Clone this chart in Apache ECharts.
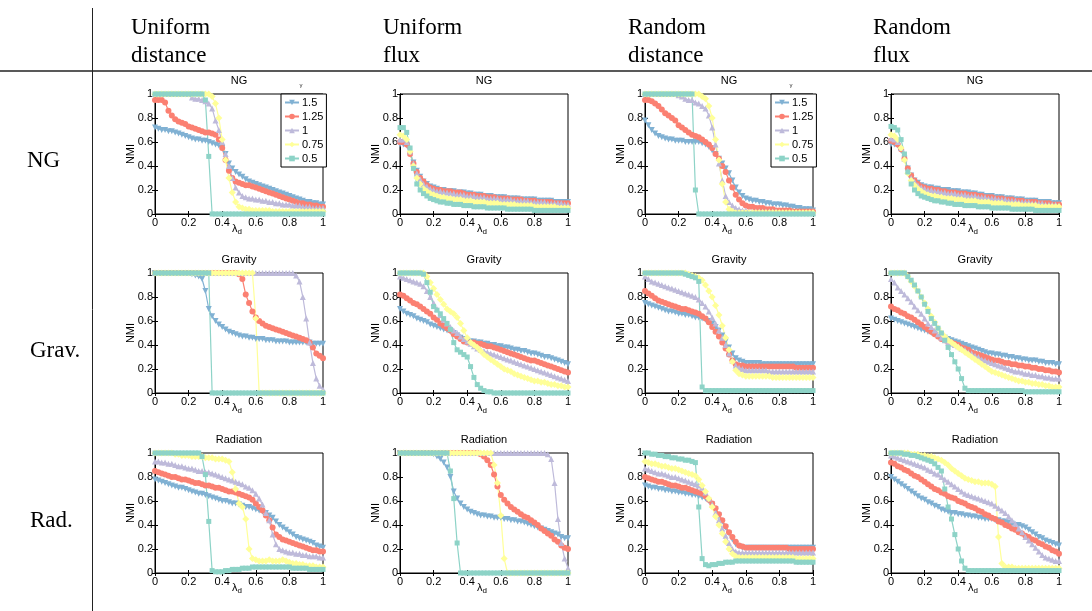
<!DOCTYPE html>
<html lang="en">
<head>
<meta charset="UTF-8" />
<title>NMI vs lambda_d</title>
<script src="https://cdn.jsdelivr.net/npm/echarts@6/dist/echarts.min.js"></script>
<style>
  html, body { margin: 0; padding: 0; background: #fff; }
  #chart { width: 1092px; height: 611px; }
</style>
</head>
<body>
<div id="chart"></div>
<script>
// x grid (lambda_d) shared by every panel
var lambdaD = [0, 0.02, 0.04, 0.06, 0.08, 0.1, 0.12, 0.14, 0.16, 0.18,
  0.2, 0.22, 0.24, 0.26, 0.28, 0.3, 0.32, 0.34, 0.36, 0.38,
  0.4, 0.42, 0.44, 0.46, 0.48, 0.5, 0.52, 0.54, 0.56, 0.58,
  0.6, 0.62, 0.64, 0.66, 0.68, 0.7, 0.72, 0.74, 0.76, 0.78,
  0.8, 0.82, 0.84, 0.86, 0.88, 0.9, 0.92, 0.94, 0.96, 0.98, 1];
var gammaNames = ['1.5', '1.25', '1', '0.75', '0.5'];
var colTitles = ['Uniform\ndistance', 'Uniform\nflux', 'Random\ndistance', 'Random\nflux'];
var rowTitles = ['NG', 'Grav.', 'Rad.'];
var panelTitles = ['NG', 'Gravity', 'Radiation'];
var xTicks = [0, 0.2, 0.4, 0.6, 0.8, 1];
var yTicks = [0, 0.2, 0.4, 0.6, 0.8, 1];

// each panel: [gamma 1.5, 1.25, 1, 0.75, 0.5]
var udNG = [
  [.72,.71,.70,.70,.69,.69,.68,.67,.66,.65, .64,.63,.62,.62,.61,.61,.60,.59,.58,.57, .55,.50,.42,.38,.35,.33,.31,.29,.27,.26, .25,.24,.23,.22,.21,.20,.19,.18,.17,.16, .15,.14,.13,.12,.11,.10,.10,.09,.09,.08, .08],
  [.95,.95,.95,.93,.86,.82,.79,.77,.76,.75, .73,.72,.71,.70,.69,.68,.68,.67,.66,.62, .55,.45,.36,.30,.27,.26,.25,.24,.24,.23, .22,.21,.20,.19,.18,.17,.16,.15,.14,.13, .12,.11,.10,.09,.09,.08,.08,.07,.07,.06, .06],
  [1,1,1,1,1,1,1,1,1,1, 1,.97,.96,.96,.95,.94,.92,.88,.78,.70, .60,.50,.40,.30,.22,.18,.15,.14,.13,.13, .12,.12,.11,.11,.10,.10,.09,.09,.08,.08, .08,.07,.07,.07,.06,.06,.06,.05,.05,.05, .05],
  [1,1,1,1,1,1,1,1,1,1, 1,1,1,1,1,1,1,.98,.92,.80, .62,.45,.30,.18,.10,.06,.05,.04,.04,.03, .03,.03,.03,.03,.03,.02,.02,.02,.02,.02, .02,.02,.02,.02,.02,.02,.02,.02,.02,.02, .02],
  [1,1,1,1,1,1,1,1,1,1, 1,1,1,1,1,.95,.48,0,0,0, 0,0,0,0,0,0,0,0,0,0, 0,0,0,0,0,0,0,0,0,0, 0,0,0,0,0,0,0,0,0,0, 0]
];
var ufNG = [
  [.58,.58,.57,.50,.43,.36,.31,.27,.25,.23, .22,.21,.20,.20,.19,.19,.19,.18,.18,.18, .17,.17,.16,.16,.16,.15,.15,.15,.14,.14, .14,.14,.13,.13,.13,.13,.12,.12,.12,.12, .12,.11,.11,.11,.11,.11,.10,.10,.10,.10, .10],
  [.60,.60,.58,.50,.42,.35,.30,.27,.24,.22, .21,.20,.20,.19,.19,.19,.18,.18,.18,.17, .16,.16,.16,.15,.15,.15,.14,.14,.14,.13, .13,.13,.13,.12,.12,.12,.12,.11,.11,.11, .11,.10,.10,.10,.10,.10,.09,.09,.09,.09, .09],
  [.62,.62,.60,.52,.42,.34,.29,.25,.23,.21, .20,.19,.19,.18,.18,.17,.17,.16,.16,.16, .15,.15,.15,.14,.14,.14,.13,.13,.13,.13, .12,.12,.12,.12,.11,.11,.11,.11,.11,.10, .10,.10,.10,.10,.09,.09,.09,.09,.09,.08, .08],
  [.66,.65,.62,.52,.40,.30,.25,.21,.19,.17, .16,.15,.14,.14,.13,.13,.12,.12,.12,.11, .11,.11,.10,.10,.10,.10,.09,.09,.09,.09, .08,.08,.08,.08,.08,.07,.07,.07,.07,.07, .06,.06,.06,.06,.06,.06,.06,.05,.05,.05, .05],
  [.72,.72,.68,.55,.38,.25,.20,.17,.15,.13, .12,.11,.10,.10,.09,.09,.08,.08,.08,.07, .07,.07,.06,.06,.06,.06,.05,.05,.05,.05, .05,.05,.04,.04,.04,.04,.04,.04,.04,.04, .03,.03,.03,.03,.03,.03,.03,.03,.03,.03, .03]
];
var rdNG = [
  [.78,.74,.70,.67,.65,.64,.63,.62,.62,.61, .61,.61,.60,.60,.60,.60,.60,.59,.58,.56, .53,.50,.46,.42,.38,.34,.28,.22,.18,.15, .13,.12,.11,.11,.10,.10,.09,.09,.08,.08, .08,.07,.07,.06,.06,.05,.05,.04,.04,.04, .03],
  [.95,.95,.94,.92,.90,.87,.84,.82,.80,.78, .74,.72,.70,.68,.66,.65,.64,.62,.60,.58, .55,.50,.46,.40,.35,.28,.22,.16,.12,.09, .07,.06,.06,.05,.05,.05,.04,.04,.04,.03, .03,.03,.03,.03,.02,.02,.02,.02,.02,.02, .02],
  [1,1,1,1,1,1,1,1,1,1, .99,.98,.96,.95,.95,.93,.92,.90,.88,.82, .72,.58,.42,.28,.15,.10,.07,.05,.04,.03, .03,.02,.02,.02,.02,.02,.02,.02,.02,.02, .01,.01,.01,.01,.01,.01,.01,.01,.01,.01, .01],
  [1,1,1,1,1,1,1,1,1,1, 1,1,1,1,1,1,1,.98,.96,.90, .80,.62,.45,.25,.10,.04,.02,.01,.01,.01, .01,.01,.01,.01,.01,.01,.01,.01,.01,.01, .01,.01,.01,.01,.01,.01,.01,.01,.01,.01, .01],
  [1,1,1,1,1,1,1,1,1,1, 1,1,1,1,1,.2,0,0,0,0, 0,0,0,0,0,0,0,0,0,0, 0,0,0,0,0,0,0,0,0,0, 0,0,0,0,0,0,0,0,0,0, 0]
];
var rfNG = [
  [.58,.58,.57,.53,.46,.38,.32,.28,.26,.24, .23,.22,.22,.21,.21,.20,.20,.20,.19,.19, .19,.18,.18,.18,.17,.17,.16,.16,.15,.15, .15,.14,.14,.14,.13,.13,.13,.12,.12,.12, .11,.11,.11,.11,.10,.10,.10,.10,.09,.09, .09],
  [.61,.60,.58,.54,.46,.38,.32,.28,.25,.23, .22,.21,.21,.20,.20,.19,.19,.18,.18,.18, .17,.17,.17,.16,.16,.16,.15,.15,.14,.14, .14,.13,.13,.13,.12,.12,.12,.11,.11,.11, .10,.10,.10,.10,.09,.09,.09,.09,.08,.08, .08],
  [.63,.62,.60,.55,.46,.36,.30,.27,.24,.22, .21,.20,.20,.19,.19,.18,.18,.17,.17,.17, .16,.16,.16,.15,.15,.15,.14,.14,.14,.13, .13,.13,.12,.12,.12,.11,.11,.11,.10,.10, .10,.10,.09,.09,.09,.09,.08,.08,.08,.08, .07],
  [.66,.65,.62,.55,.45,.34,.28,.24,.21,.19, .17,.16,.15,.15,.14,.14,.13,.13,.13,.12, .12,.12,.11,.11,.11,.11,.10,.10,.10,.10, .09,.09,.09,.09,.08,.08,.08,.08,.08,.07, .07,.07,.07,.07,.06,.06,.06,.06,.06,.06, .06],
  [.73,.72,.70,.62,.50,.35,.25,.20,.17,.15, .14,.13,.12,.11,.11,.10,.10,.09,.09,.08, .08,.08,.07,.07,.07,.07,.06,.06,.06,.06, .05,.05,.05,.05,.05,.05,.04,.04,.04,.04, .04,.04,.04,.03,.03,.03,.03,.03,.03,.03, .03]
];
var udGrav = [
  [1,1,1,1,1,1,1,1,1,1, 1,.99,.98,.97,.95,.85,.70,.64,.60,.57, .55,.53,.51,.50,.49,.48,.47,.47,.46,.46, .45,.45,.45,.44,.44,.44,.43,.43,.43,.43, .42,.42,.42,.42,.42,.42,.42,.41,.41,.41, .41],
  [1,1,1,1,1,1,1,1,1,1, 1,1,1,1,1,1,1,1,1,1, 1,1,1,1,1,.99,.95,.82,.75,.68, .63,.60,.58,.56,.55,.54,.53,.52,.51,.50, .49,.48,.47,.46,.45,.44,.42,.38,.33,.31, .29],
  [1,1,1,1,1,1,1,1,1,1, 1,1,1,1,1,1,1,1,1,1, 1,1,1,1,1,1,1,1,1,1, 1,1,1,1,1,1,1,1,1,1, 1,1,.98,.93,.80,.62,.42,.25,.12,.06, .03],
  [1,1,1,1,1,1,1,1,1,1, 1,1,1,1,1,1,1,1,1,1, 1,1,1,1,1,1,1,1,1,1, .62,0,0,0,0,0,0,0,0,0, 0,0,0,0,0,0,0,0,0,0, 0],
  [1,1,1,1,1,1,1,1,1,1, 1,1,1,1,1,1,1,0,0,0, 0,0,0,0,0,0,0,0,0,0, 0,0,0,0,0,0,0,0,0,0, 0,0,0,0,0,0,0,0,0,0, 0]
];
var ufGrav = [
  [.70,.68,.66,.65,.64,.62,.61,.60,.59,.57, .56,.55,.54,.53,.52,.51,.50,.48,.46,.45, .44,.43,.43,.42,.42,.41,.41,.40,.40,.39, .39,.38,.38,.37,.36,.36,.35,.35,.34,.33, .33,.32,.31,.30,.30,.29,.28,.27,.26,.25, .24],
  [.82,.81,.79,.77,.75,.74,.72,.70,.68,.66, .63,.61,.58,.56,.54,.52,.49,.47,.45,.43, .42,.42,.42,.41,.41,.40,.39,.39,.38,.37, .36,.35,.34,.33,.32,.31,.30,.29,.28,.27, .27,.26,.25,.24,.23,.22,.21,.20,.19,.18, .17],
  [.97,.96,.95,.94,.93,.92,.91,.89,.85,.80, .75,.70,.65,.61,.58,.55,.52,.50,.47,.45, .43,.41,.39,.37,.36,.35,.34,.33,.32,.31, .30,.29,.28,.27,.26,.25,.24,.23,.22,.21, .20,.19,.18,.17,.16,.15,.14,.13,.12,.11, .10],
  [1,1,1,1,1,1,1,1,.97,.92, .87,.82,.78,.74,.70,.68,.66,.63,.58,.52, .46,.42,.40,.38,.35,.32,.30,.28,.26,.24, .22,.20,.19,.18,.16,.15,.14,.13,.12,.11, .10,.10,.09,.09,.08,.07,.07,.06,.06,.05, .05],
  [1,1,1,1,1,1,1,.99,.92,.84, .72,.69,.66,.62,.58,.53,.42,.36,.34,.32, .30,.22,.13,.07,.04,.02,.01,.01,0,0, 0,0,0,0,0,0,0,0,0,0, 0,0,0,0,0,0,0,0,0,0, 0]
];
var rdGrav = [
  [.75,.74,.73,.72,.71,.70,.69,.68,.68,.67, .66,.66,.65,.65,.64,.63,.63,.62,.61,.60, .58,.55,.52,.48,.43,.38,.33,.29,.27,.26, .25,.25,.25,.25,.25,.24,.24,.24,.24,.24, .24,.24,.24,.24,.24,.24,.24,.24,.24,.24, .24],
  [.85,.83,.81,.79,.77,.76,.75,.74,.73,.72, .71,.70,.70,.69,.68,.67,.66,.64,.62,.59, .55,.51,.47,.42,.37,.32,.27,.24,.23,.23, .22,.22,.22,.22,.22,.22,.22,.22,.22,.22, .22,.22,.22,.22,.22,.21,.21,.21,.21,.21, .21],
  [.97,.95,.93,.92,.91,.90,.89,.88,.87,.86, .85,.84,.83,.82,.81,.80,.78,.75,.72,.68, .63,.58,.52,.46,.40,.33,.27,.23,.21,.20, .19,.19,.19,.19,.19,.19,.19,.18,.18,.18, .18,.18,.18,.18,.18,.18,.18,.18,.18,.18, .18],
  [1,1,1,1,1,1,1,1,1,1, 1,1,1,.99,.98,.97,.96,.94,.90,.85, .80,.73,.65,.56,.46,.36,.26,.19,.16,.15, .14,.14,.14,.14,.14,.14,.14,.14,.13,.13, .13,.13,.13,.13,.13,.13,.13,.13,.13,.13, .13],
  [1,1,1,1,1,1,1,1,1,1, 1,1,.99,.98,.97,.96,.93,.05,.02,.02, .02,.02,.02,.02,.02,.02,.02,.02,.02,.02, .02,.02,.02,.02,.02,.02,.02,.02,.02,.02, .02,.02,.02,.02,.02,.02,.02,.02,.02,.02, .02]
];
var rfGrav = [
  [.62,.61,.60,.59,.58,.57,.56,.55,.54,.53, .52,.51,.50,.49,.48,.47,.46,.45,.44,.43, .42,.41,.40,.39,.38,.37,.36,.35,.34,.33, .33,.32,.32,.31,.31,.30,.30,.29,.29,.28, .28,.27,.27,.27,.26,.26,.25,.25,.25,.24, .24],
  [.72,.70,.69,.67,.66,.64,.63,.61,.59,.57, .55,.53,.51,.49,.47,.45,.44,.43,.42,.41, .40,.38,.37,.36,.34,.33,.32,.31,.30,.29, .28,.27,.27,.26,.25,.25,.24,.24,.23,.23, .22,.22,.21,.21,.20,.20,.19,.19,.18,.18, .17],
  [.95,.92,.88,.85,.82,.79,.76,.72,.69,.66, .62,.58,.55,.52,.49,.46,.44,.42,.41,.40, .39,.37,.36,.34,.33,.31,.30,.28,.27,.26, .25,.24,.23,.22,.21,.20,.19,.18,.18,.17, .16,.16,.15,.15,.14,.14,.13,.13,.12,.12, .12],
  [1,1,1,1,1,.97,.93,.89,.85,.80, .75,.70,.64,.59,.54,.50,.47,.44,.42,.40, .38,.36,.34,.32,.30,.28,.26,.24,.22,.20, .18,.17,.16,.15,.14,.13,.12,.11,.10,.10, .09,.09,.08,.08,.07,.07,.06,.06,.05,.05, .05],
  [1,1,1,1,1,.97,.94,.90,.85,.80, .74,.68,.62,.58,.54,.50,.44,.38,.32,.26, .20,.12,.04,.02,.02,.02,.02,.02,.02,.02, .02,.02,.02,.02,.02,.02,.02,.02,.02,.02, .01,.01,.01,.01,.01,.01,.01,.01,.01,.01, .01]
];
var udRad = [
  [.78,.77,.76,.75,.74,.73,.72,.71,.71,.70, .69,.68,.67,.66,.66,.65,.64,.63,.62,.61, .60,.60,.59,.58,.58,.57,.56,.55,.55,.54, .53,.52,.51,.50,.48,.46,.43,.40,.38,.36, .34,.32,.30,.29,.28,.27,.26,.25,.23,.22, .21],
  [.85,.84,.83,.82,.81,.80,.80,.79,.78,.78, .77,.76,.75,.75,.74,.73,.73,.72,.71,.71, .70,.69,.68,.68,.67,.66,.65,.64,.63,.61, .58,.55,.52,.48,.44,.38,.32,.30,.28,.27, .26,.25,.24,.23,.22,.21,.20,.19,.19,.18, .18],
  [.93,.93,.92,.92,.91,.91,.90,.89,.89,.88, .87,.87,.86,.85,.85,.84,.84,.83,.82,.81, .80,.79,.78,.77,.76,.75,.74,.72,.71,.69, .66,.62,.57,.50,.44,.32,.24,.20,.19,.18, .17,.17,.16,.16,.15,.15,.14,.14,.14,.13, .13],
  [1,1,1,1,1,1,.99,.99,.98,.98, .98,.97,.97,.97,.97,.96,.96,.96,.95,.95, .95,.94,.93,.84,.70,.58,.55,.45,.20,.12, .11,.10,.10,.10,.11,.10,.10,.10,.11,.10, .09,.08,.08,.07,.07,.06,.06,.06,.05,.05, .05],
  [1,1,1,1,1,1,1,1,1,1, 1,1,1,1,.97,.82,.43,.02,.01,.01, .01,.02,.02,.03,.03,.03,.04,.04,.04,.05, .05,.05,.05,.05,.05,.05,.05,.05,.05,.05, .05,.04,.04,.04,.04,.04,.03,.03,.03,.03, .03]
];
var ufRad = [
  [1,1,1,1,1,1,1,1,1,1, .99,.97,.95,.92,.88,.80,.68,.62,.58,.55, .53,.51,.50,.49,.48,.48,.47,.47,.46,.46, .46,.45,.45,.44,.44,.43,.43,.42,.41,.40, .39,.38,.37,.36,.35,.34,.33,.32,.30,.29, .29],
  [1,1,1,1,1,1,1,1,1,1, 1,1,1,1,1,1,1,1,1,1, 1,1,1,1,.99,.97,.94,.90,.82,.72, .65,.61,.58,.55,.53,.51,.49,.47,.46,.44, .42,.40,.37,.35,.33,.31,.28,.26,.23,.21, .20],
  [1,1,1,1,1,1,1,1,1,1, 1,1,1,1,1,1,1,1,1,1, 1,1,1,1,1,1,1,1,1,1, 1,1,1,1,1,1,1,1,1,1, 1,1,1,1,.99,.95,.75,.45,.25,.12, .04],
  [1,1,1,1,1,1,1,1,1,1, 1,1,1,1,1,1,1,1,1,1, 1,1,1,1,1,1,1,1,.90,.75, .48,.12,0,0,0,0,0,0,0,0, 0,0,0,0,0,0,0,0,0,0, 0],
  [1,1,1,1,1,1,1,1,1,1, 1,1,1,1,1,.85,.62,.25,0,0, 0,0,0,0,0,0,0,0,0,0, 0,0,0,0,0,0,0,0,0,0, 0,0,0,0,0,0,0,0,0,0, 0]
];
var rdRad = [
  [.73,.72,.71,.71,.70,.70,.69,.69,.68,.68, .67,.67,.66,.66,.65,.65,.64,.63,.62,.60, .57,.53,.48,.43,.38,.33,.28,.24,.22,.21, .21,.21,.21,.21,.21,.21,.21,.21,.21,.21, .21,.21,.21,.21,.21,.21,.21,.21,.21,.21, .21],
  [.80,.79,.78,.77,.76,.76,.75,.74,.73,.73, .72,.71,.71,.70,.69,.68,.67,.66,.64,.61, .58,.54,.49,.44,.39,.34,.30,.26,.23,.22, .21,.21,.21,.21,.21,.21,.21,.21,.21,.21, .21,.21,.21,.20,.20,.20,.20,.20,.20,.20, .20],
  [.87,.86,.85,.84,.83,.83,.82,.81,.80,.80, .79,.78,.77,.76,.75,.74,.73,.71,.67,.62, .57,.50,.44,.37,.31,.25,.20,.18,.17,.17, .17,.17,.17,.17,.17,.17,.17,.17,.17,.17, .17,.17,.17,.17,.17,.17,.17,.17,.17,.17, .17],
  [.93,.92,.91,.91,.90,.89,.89,.88,.87,.87, .86,.85,.84,.83,.82,.81,.78,.73,.68,.62, .55,.47,.40,.33,.26,.20,.16,.14,.13,.13, .13,.13,.13,.13,.13,.13,.13,.13,.13,.13, .13,.13,.13,.13,.13,.12,.12,.12,.12,.12, .12],
  [1,1,.99,.99,.98,.98,.97,.97,.96,.96, .95,.95,.94,.94,.93,.92,.55,.12,.07,.06, .07,.07,.08,.08,.09,.09,.09,.10,.10,.10, .10,.10,.10,.10,.10,.10,.10,.10,.10,.10, .10,.10,.10,.10,.10,.09,.09,.09,.09,.09, .09]
];
var rfRad = [
  [.80,.78,.76,.74,.72,.70,.68,.66,.64,.62, .61,.59,.58,.56,.55,.53,.52,.51,.50,.50, .49,.49,.48,.48,.47,.47,.46,.46,.45,.45, .45,.44,.44,.43,.43,.42,.41,.40,.40,.39, .38,.36,.34,.32,.30,.29,.27,.26,.25,.24, .23],
  [.92,.91,.89,.88,.86,.85,.83,.81,.80,.78, .76,.74,.72,.70,.69,.67,.66,.64,.63,.62, .60,.59,.58,.56,.55,.54,.52,.51,.49,.48, .46,.45,.43,.42,.40,.39,.37,.36,.34,.33, .31,.30,.28,.27,.25,.24,.22,.21,.19,.18, .16],
  [.98,.97,.96,.95,.94,.93,.92,.91,.90,.89, .88,.86,.85,.83,.82,.80,.78,.76,.74,.72, .70,.68,.66,.65,.64,.63,.62,.61,.60,.59, .58,.56,.54,.52,.50,.47,.44,.41,.37,.34, .30,.27,.24,.21,.18,.15,.13,.12,.11,.10, .10],
  [1,1,1,1,1,1,.99,.99,.99,.98, .98,.97,.97,.96,.95,.94,.92,.90,.87,.85, .83,.81,.79,.78,.77,.76,.76,.75,.75,.75, .74,.72,.30,.08,.05,.05,.05,.04,.04,.04, .04,.04,.04,.04,.04,.04,.04,.04,.04,.04, .04],
  [1,1,1,1,.99,.99,.98,.98,.97,.96, .95,.94,.93,.91,.88,.85,.70,.55,.45,.32, .20,.10,.04,.02,.02,.02,.02,.02,.02,.02, .02,.02,.02,.02,.02,.02,.02,.02,.02,.02, .02,.02,.02,.02,.02,.02,.02,.02,.02,.02, .02]
];

var panelData = [
  [udNG, ufNG, rdNG, rfNG],
  [udGrav, ufGrav, rdGrav, rfGrav],
  [udRad, ufRad, rdRad, rfRad]
];

var chart = echarts.init(document.getElementById('chart'));

var colLeft = [155, 400, 645, 891];
var headLeft = [131, 383, 628, 873];
var rowTop = [94, 273, 453];
var plotW = 168;
var plotH = 120;
var lineColor = ['#80b1d3', '#fb8072', '#bebada', '#ffff99', '#8dd3c7'];
var lineSymbol = ['triangle', 'circle', 'triangle', 'diamond', 'rect'];
var symbolRot = [180, 0, 0, 0, 0];
var symbolSz = [6, 6, 6, 7, 5];
var sans = 'Liberation Sans, Arial, sans-serif';
var serif = 'Liberation Serif, Times New Roman, serif';

var grids = [];
var xAxes = [];
var yAxes = [];
var series = [];
var graphics = [];

function tickAxis(k, pos) {
  return {
    gridIndex: k, type: 'value', min: 0, max: 1, interval: 0.2, position: pos,
    axisLine: { lineStyle: { color: '#000', width: 1 } },
    axisTick: { inside: true, length: 3, lineStyle: { color: '#000' } },
    axisLabel: { show: false },
    splitLine: { show: false }
  };
}

for (var r = 0; r < 3; r++) {
  for (var c = 0; c < 4; c++) {
    var k = r * 4 + c;
    grids.push({
      left: colLeft[c], top: rowTop[r], width: plotW, height: plotH,
      show: true, borderColor: '#000', borderWidth: 1, backgroundColor: '#fff'
    });
    xAxes.push({
      gridIndex: k, type: 'value', min: 0, max: 1, interval: 0.2,
      name: '{l|λ}{d|d}', nameLocation: 'middle', nameGap: 7, nameMoveOverlap: false,
      nameTextStyle: {
        color: '#000', padding: [0, 4, 0, 0],
        rich: {
          l: { fontSize: 11, fontFamily: sans, color: '#000' },
          d: { fontSize: 8, fontFamily: sans, color: '#000', padding: [7, 0, 0, 0] }
        }
      },
      axisLine: { lineStyle: { color: '#000', width: 1 } },
      axisTick: { inside: true, length: 3, lineStyle: { color: '#000' } },
      axisLabel: {
        color: '#000', fontSize: 11, fontFamily: sans, margin: 3,
        formatter: function (v) { return xTicks.indexOf(v) >= 0 ? String(v) : ''; }
      },
      splitLine: { show: false }
    });
    yAxes.push({
      gridIndex: k, type: 'value', min: 0, max: 1, interval: 0.2,
      name: 'NMI', nameLocation: 'middle', nameGap: 19, nameMoveOverlap: false,
      nameTextStyle: { color: '#000', fontSize: 11, fontFamily: sans },
      axisLine: { lineStyle: { color: '#000', width: 1 } },
      axisTick: { inside: true, length: 3, lineStyle: { color: '#000' } },
      axisLabel: {
        color: '#000', fontSize: 11, fontFamily: sans, margin: 2,
        formatter: function (v) { return yTicks.indexOf(v) >= 0 ? String(v) : ''; }
      },
      splitLine: { show: false }
    });

    var vals = panelData[r][c];
    for (var g = 0; g < 5; g++) {
      series.push({
        name: gammaNames[g], type: 'line',
        xAxisIndex: k, yAxisIndex: k,
        data: lambdaD.map(function (x, i) { return [x, vals[g][i]]; }),
        symbol: lineSymbol[g], symbolRotate: symbolRot[g], symbolSize: symbolSz[g],
        showAllSymbol: true,
        lineStyle: { width: 1.2, color: lineColor[g] },
        itemStyle: { color: lineColor[g] },
        clip: true
      });
    }

    graphics.push({
      type: 'text', x: colLeft[c] + plotW / 2, y: rowTop[r] - 13,
      style: { text: panelTitles[r], font: '11px ' + sans, fill: '#000',
        align: 'center', verticalAlign: 'middle', textAlign: 'center', textVerticalAlign: 'middle' }
    });
  }
}

// inner ticks on the top and right edges of each box
for (var k2 = 0; k2 < 12; k2++) {
  xAxes.push(tickAxis(k2, 'top'));
  yAxes.push(tickAxis(k2, 'right'));
}

// table header
for (var c2 = 0; c2 < 4; c2++) {
  graphics.push({
    type: 'text', x: headLeft[c2], y: 42,
    style: { text: colTitles[c2], font: '23px ' + serif, fill: '#000', lineHeight: 28.5,
      align: 'left', verticalAlign: 'middle', textAlign: 'left', textVerticalAlign: 'middle' }
  });
}
var rowLabelY = [161, 351, 521];
for (var r2 = 0; r2 < 3; r2++) {
  graphics.push({
    type: 'text', x: r2 === 0 ? 27 : 30, y: rowLabelY[r2],
    style: { text: rowTitles[r2], font: '23px ' + serif, fill: '#000',
      align: 'left', verticalAlign: 'middle', textAlign: 'left', textVerticalAlign: 'middle' }
  });
}
graphics.push({
  type: 'line', shape: { x1: 0, y1: 71, x2: 1092, y2: 71 },
  style: { stroke: '#222', lineWidth: 1.6 }
});
graphics.push({
  type: 'line', shape: { x1: 92.5, y1: 8, x2: 92.5, y2: 611 },
  style: { stroke: '#222', lineWidth: 1 }
});
[0, 2].forEach(function (c3) {
  graphics.push({
    type: 'text', x: colLeft[c3] + 146, y: 85, z: 10,
    style: { text: 'γ', font: '6px ' + sans, fill: '#333',
      align: 'center', verticalAlign: 'middle', textAlign: 'center', textVerticalAlign: 'middle' }
  });
});

var legends = [0, 2].map(function (c4) {
  return {
    data: gammaNames, orient: 'vertical',
    left: colLeft[c4] + 126, top: rowTop[0],
    backgroundColor: '#fff', borderColor: '#000', borderWidth: 1,
    padding: [3, 3, 3, 3], itemGap: 3, itemWidth: 14, itemHeight: 7,
    selectedMode: false,
    textStyle: { color: '#000', fontSize: 11, fontFamily: sans, padding: [0, 0, 0, -2] }
  };
});

chart.setOption({
  animation: false,
  backgroundColor: '#fff',
  grid: grids,
  xAxis: xAxes,
  yAxis: yAxes,
  legend: legends,
  series: series,
  graphic: graphics
});
</script>
</body>
</html>
